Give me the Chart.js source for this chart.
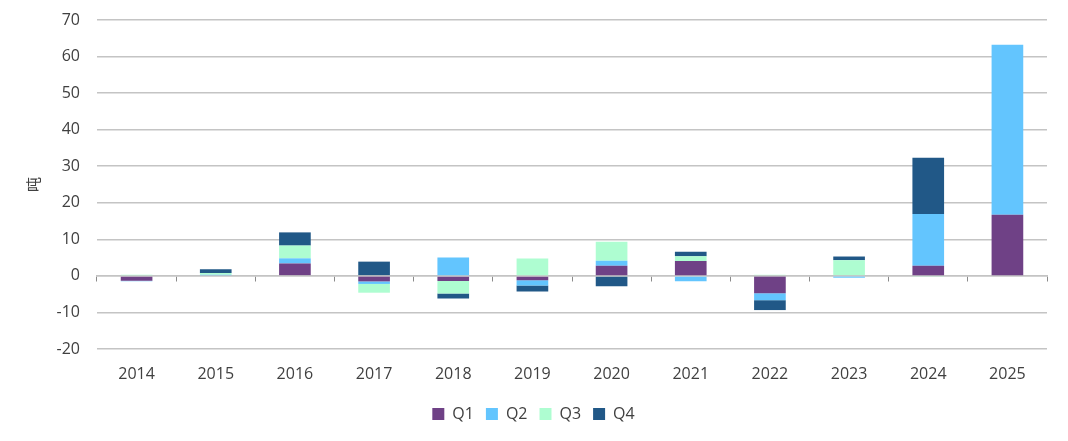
<!DOCTYPE html>
<html>
<head>
<meta charset="utf-8">
<script src="https://cdn.jsdelivr.net/npm/chart.js@4.4.1/dist/chart.umd.min.js"></script>
<style>
  html, body { margin: 0; padding: 0; background: #fff; }
  #wrap { width: 1068px; height: 441px; }
</style>
</head>
<body>
<div id="wrap"><canvas id="myChart"></canvas></div>
<script>
var years = ['2014', '2015', '2016', '2017', '2018', '2019', '2020', '2021', '2022', '2023', '2024', '2025'];
var q1 = [-1.3, 0, 3.4, -1.5, -1.4, -1.2, 2.75, 4.1, -4.75, 0, 2.75, 16.7];
var q2 = [-0.2, 0.3, 1.4, -0.7, 5.0, -1.4, 1.4, -1.45, -1.9, -0.5, 14.2, 46.5];
var q3 = [0.3, 0.5, 3.5, -2.4, -3.4, 4.75, 5.2, 1.3, 0.3, 4.3, -0.3, 0];
var q4 = [0, 1.0, 3.6, 3.9, -1.4, -1.65, -2.85, 1.2, -2.7, 1.0, 15.4, 0];
var yTicks = [70, 60, 50, 40, 30, 20, 10, 0, -10, -20];

var textColor = '#404040';
var gridColor = '#c4c4c4';
var fontName = "'Open Sans', 'Noto Sans', 'Noto Sans CJK SC', sans-serif";

function ds(label, data, color) {
    return {
        label: label,
        data: data,
        backgroundColor: color,
        borderWidth: 0,
        barPercentage: 0.4,
        categoryPercentage: 1.0,
        xAxisID: 'x'
    };
}

var ctx = document.getElementById('myChart').getContext('2d');
var myChart = new Chart(ctx, {
    type: 'bar',
    data: {
        labels: years,
        datasets: [
            ds('Q1', q1, '#6f4186'),
            ds('Q2', q2, '#63c5fe'),
            ds('Q3', q3, '#aefdd1'),
            ds('Q4', q4, '#215887')
        ]
    },
    options: {
        responsive: true,
        maintainAspectRatio: false,
        animation: false,
        layout: { padding: { top: 20, right: 21, left: 20, bottom: 9 } },
        plugins: {
            legend: {
                position: 'bottom',
                labels: {
                    boxWidth: 12,
                    boxHeight: 12,
                    padding: 12,
                    color: textColor,
                    font: { family: fontName, size: 16 }
                }
            },
            tooltip: { enabled: false }
        },
        scales: {
            x: {
                stacked: true,
                position: { y: 0 },
                offset: true,
                ticks: { display: false },
                grid: {
                    offset: true,
                    drawOnChartArea: false,
                    drawTicks: true,
                    tickLength: 5,
                    color: '#8a8a8a',
                    lineWidth: 1
                },
                border: { display: true, color: gridColor, width: 1.5 }
            },
            x2: {
                type: 'category',
                labels: years,
                position: 'bottom',
                offset: true,
                grid: { display: false },
                border: { display: false },
                afterFit: function (axis) { axis.height = 45; },
                ticks: {
                    color: textColor,
                    padding: 8,
                    font: { family: fontName, size: 16 }
                }
            },
            y: {
                stacked: true,
                min: -20,
                max: 70,
                afterBuildTicks: function (axis) {
                    axis.ticks = yTicks.map(function (v) { return { value: v }; });
                },
                afterFit: function (axis) { axis.width = 77; },
                title: {
                    display: true,
                    text: '吨',
                    color: textColor,
                    padding: { top: 6, bottom: 0 },
                    font: { family: fontName, size: 15 }
                },
                grid: {
                    color: gridColor,
                    lineWidth: 1.5,
                    drawTicks: true,
                    tickLength: 17,
                    tickColor: 'rgba(0,0,0,0)'
                },
                border: { display: false },
                ticks: {
                    color: textColor,
                    padding: 0,
                    font: { family: fontName, size: 16 }
                }
            }
        }
    }
});
</script>
</body>
</html>
